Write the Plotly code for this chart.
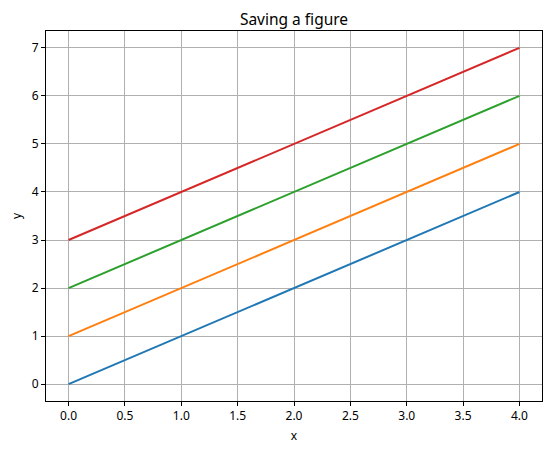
import plotly.graph_objects as go

x_values = [0, 1, 2, 3, 4]
series_y = [[0, 1, 2, 3, 4], [1, 2, 3, 4, 5], [2, 3, 4, 5, 6], [3, 4, 5, 6, 7]]
colors = ["#1f77b4", "#ff7f0e", "#2ca02c", "#d62728"]
x_ticks = [0, 0.5, 1, 1.5, 2, 2.5, 3, 3.5, 4]
x_tick_labels = ["0.0", "0.5", "1.0", "1.5", "2.0", "2.5", "3.0", "3.5", "4.0"]
y_ticks = [0, 1, 2, 3, 4, 5, 6, 7]

fig = go.Figure()
for ys, c in zip(series_y, colors):
    fig.add_trace(go.Scatter(x=x_values, y=ys, mode="lines",
                             line=dict(color=c, width=2), showlegend=False))

font = "Noto Sans, DejaVu Sans, sans-serif"
# page body has a default 8px margin, so the figure is shifted by 8px
fig.update_layout(
    width=543, height=444,
    margin=dict(l=38, r=9, t=23, b=51, autoexpand=False),
    paper_bgcolor="white", plot_bgcolor="white",
    font=dict(family=font, size=12, color="black"),
    title=dict(text="Saving a figure", x=0.5, xref="paper", xanchor="center",
               y=1, yref="paper", yanchor="bottom", pad=dict(b=6),
               font=dict(size=15.5, color="black")),
    xaxis=dict(range=[-0.2, 4.2], tickvals=x_ticks, ticktext=x_tick_labels,
               automargin=False,
               showgrid=True, gridcolor="#b0b0b0", gridwidth=1,
               showline=True, linecolor="black", linewidth=1, mirror=True,
               ticks="outside", ticklen=4, tickcolor="black", zeroline=False,
               tickfont=dict(size=12),
               title=dict(text="x", font=dict(size=12), standoff=8)),
    yaxis=dict(range=[-0.35, 7.35], tickvals=y_ticks,
               automargin=False,
               showgrid=True, gridcolor="#b0b0b0", gridwidth=1,
               showline=True, linecolor="black", linewidth=1, mirror=True,
               ticks="outside", ticklen=4, tickcolor="black", zeroline=False,
               tickfont=dict(size=12),
               title=dict(text="y", font=dict(size=12), standoff=11)),
)
fig.write_html("out.html")
